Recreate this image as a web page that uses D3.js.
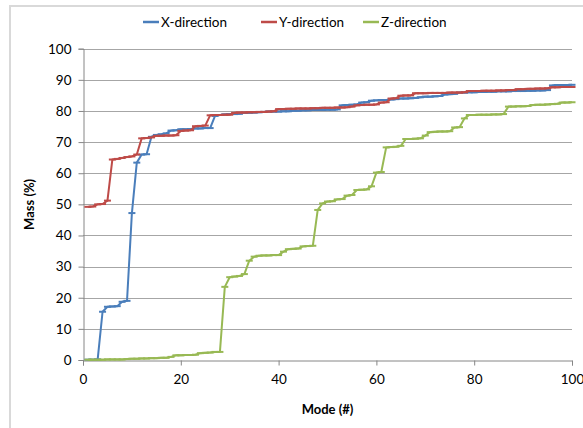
<!DOCTYPE html>
<html>
<head>
<meta charset="utf-8">
<script src="https://cdn.jsdelivr.net/npm/d3@7"></script>
<style>
    body { margin: 0; background: #fff; }
    svg { display: block; font-family: Lato, "Liberation Sans", sans-serif; }
</style>
</head>
<body>
<svg id="chart"></svg>
<script>
// mode numbers 1..100
const modes = d3.range(1, 101);

const xDirection = [
    0.1, 0.1, 0.2, 15.5, 17.1, 17.2, 17.3, 18.7, 19.0, 47.2,
    63.4, 66.0, 66.1, 71.7, 72.3, 72.5, 72.8, 73.7, 73.8, 74.1,
    74.1, 74.2, 74.4, 74.4, 74.5, 74.5, 78.4, 78.7, 78.9, 79.0,
    79.0, 79.1, 79.4, 79.4, 79.5, 79.6, 79.7, 79.8, 79.8, 79.8,
    79.9, 79.9, 80.1, 80.1, 80.2, 80.2, 80.3, 80.3, 80.3, 80.4,
    80.4, 80.5, 81.8, 81.9, 82.0, 82.1, 82.7, 82.8, 83.3, 83.4,
    83.5, 83.5, 83.7, 83.8, 84.0, 84.0, 84.1, 84.2, 84.4, 84.6,
    84.6, 84.7, 84.8, 85.3, 85.4, 85.5, 85.9, 85.9, 86.0, 86.0,
    86.1, 86.1, 86.2, 86.2, 86.3, 86.3, 86.3, 86.4, 86.4, 86.4,
    86.5, 86.5, 86.6, 86.6, 86.7, 88.2, 88.3, 88.3, 88.3, 88.4
];

const yDirection = [
    49.2, 49.3, 50.0, 50.1, 51.2, 64.4, 64.6, 64.9, 65.2, 65.4,
    66.0, 71.2, 71.3, 71.5, 72.0, 72.0, 72.1, 72.1, 72.2, 73.6,
    73.7, 73.8, 75.1, 75.2, 75.3, 78.6, 78.7, 78.7, 78.8, 78.8,
    79.4, 79.5, 79.5, 79.6, 79.6, 79.7, 79.7, 79.8, 79.9, 80.6,
    80.6, 80.7, 80.7, 80.8, 80.8, 80.8, 80.9, 80.9, 81.0, 81.0,
    81.0, 81.1, 81.1, 81.2, 81.4, 81.8, 81.9, 82.0, 82.0, 82.1,
    82.7, 82.8, 84.0, 84.1, 84.9, 85.0, 85.0, 85.7, 85.7, 85.7,
    85.8, 85.8, 85.8, 85.8, 85.9, 85.9, 85.9, 86.0, 86.4, 86.4,
    86.4, 86.5, 86.5, 86.5, 86.6, 86.6, 86.7, 86.7, 87.0, 87.0,
    87.1, 87.1, 87.2, 87.2, 87.3, 87.6, 87.6, 87.7, 87.7, 87.7
];

const zDirection = [
    0.1, 0.1, 0.1, 0.1, 0.2, 0.2, 0.2, 0.2, 0.3, 0.4,
    0.4, 0.5, 0.5, 0.6, 0.6, 0.7, 0.7, 1.0, 1.5, 1.5,
    1.6, 1.6, 1.7, 2.2, 2.3, 2.4, 2.6, 2.6, 23.5, 26.6,
    26.8, 27.0, 27.6, 31.9, 33.2, 33.5, 33.6, 33.6, 33.7, 33.7,
    34.8, 35.6, 35.7, 35.8, 36.5, 36.6, 36.7, 48.2, 50.3, 50.9,
    51.0, 51.6, 51.7, 52.8, 53.0, 54.6, 54.7, 54.8, 55.8, 60.2,
    60.4, 68.3, 68.4, 68.5, 68.8, 71.0, 71.0, 71.1, 71.2, 72.1,
    73.2, 73.3, 73.4, 73.4, 73.5, 74.7, 74.8, 77.6, 78.7, 78.7,
    78.8, 78.8, 78.8, 78.9, 78.9, 79.0, 81.4, 81.4, 81.5, 81.5,
    81.6, 81.9, 82.0, 82.0, 82.1, 82.2, 82.3, 82.7, 82.7, 82.8
];

const seriesNames = ['X-direction', 'Y-direction', 'Z-direction'];
const seriesColors = ['#4a7ebb', '#be4b48', '#98b954'];
const xTicks = [0, 20, 40, 60, 80, 100];
const yTicks = [0, 10, 20, 30, 40, 50, 60, 70, 80, 90, 100];

const width = 583;
const height = 428;
const margin = { top: 48.7, right: 11, bottom: 68, left: 83 };

const svg = d3.select('#chart')
    .attr('width', width)
    .attr('height', height);

// outer chart frame
svg.append('rect')
    .attr('x', 10)
    .attr('y', 6)
    .attr('width', 620)
    .attr('height', 460)
    .attr('fill', 'none')
    .attr('stroke', '#d9d9d9')
    .attr('stroke-width', 2);

const x = d3.scaleLinear()
    .domain([0, 100])
    .range([margin.left, width - margin.right]);

const y = d3.scaleLinear()
    .domain([0, 100])
    .range([height - margin.bottom, margin.top]);

// gridlines
svg.append('g')
    .selectAll('line')
    .data(yTicks.filter(d => d > 0))
    .enter()
    .append('line')
    .attr('x1', x(0))
    .attr('x2', x(100))
    .attr('y1', d => Math.round(y(d)) + 0.5)
    .attr('y2', d => Math.round(y(d)) + 0.5)
    .attr('stroke', '#a6a6a6')
    .attr('stroke-width', 1);

// axes
const xAxis = svg.append('g')
    .attr('transform', `translate(0,${Math.round(y(0)) + 0.5})`)
    .call(d3.axisBottom(x).tickValues(xTicks).tickSize(5).tickPadding(9));

const yAxis = svg.append('g')
    .attr('transform', `translate(${Math.round(x(0)) + 0.5},0)`)
    .call(d3.axisLeft(y).tickValues(yTicks).tickSize(5).tickPadding(7));

[xAxis, yAxis].forEach(g => {
    g.select('.domain').attr('stroke', '#868686');
    g.selectAll('.tick line').attr('stroke', '#868686');
    g.selectAll('.tick text')
        .attr('fill', '#000')
        .style('font-size', '13.5px')
        .style('font-family', 'Lato, "Liberation Sans", sans-serif');
});

// axis titles
svg.append('text')
    .attr('x', (x(0) + x(100)) / 2)
    .attr('y', 414)
    .attr('text-anchor', 'middle')
    .style('font-size', '13px')
    .style('font-weight', 'bold')
    .text('Mode (#)');

svg.append('text')
    .attr('transform', `translate(34,${(y(0) + y(100)) / 2}) rotate(-90)`)
    .attr('text-anchor', 'middle')
    .style('font-size', '13px')
    .style('font-weight', 'bold')
    .text('Mass (%)');

// series
const allSeries = [xDirection, yDirection, zDirection];

const line = d3.line()
    .x((d, i) => x(modes[i]))
    .y(d => y(d));

allSeries.forEach((values, s) => {
    const g = svg.append('g');
    g.append('path')
        .datum(values)
        .attr('d', line)
        .attr('fill', 'none')
        .attr('stroke', seriesColors[s])
        .attr('stroke-width', 2)
        .attr('stroke-linejoin', 'round');

    // dash markers
    g.selectAll('line')
        .data(values)
        .enter()
        .append('line')
        .attr('x1', (d, i) => x(modes[i]) - 3.5)
        .attr('x2', (d, i) => x(modes[i]) + 3.5)
        .attr('y1', d => y(d))
        .attr('y2', d => y(d))
        .attr('stroke', seriesColors[s])
        .attr('stroke-width', 2);
});

// legend
const legendX = [143, 261, 363];
const legend = svg.append('g');
seriesNames.forEach((name, i) => {
    legend.append('line')
        .attr('x1', legendX[i])
        .attr('x2', legendX[i] + 16)
        .attr('y1', 22)
        .attr('y2', 22)
        .attr('stroke', seriesColors[i])
        .attr('stroke-width', 2.5);
    legend.append('text')
        .attr('x', legendX[i] + 18)
        .attr('y', 27)
        .style('font-size', '13.5px')
        .text(name);
});
</script>
</body>
</html>
